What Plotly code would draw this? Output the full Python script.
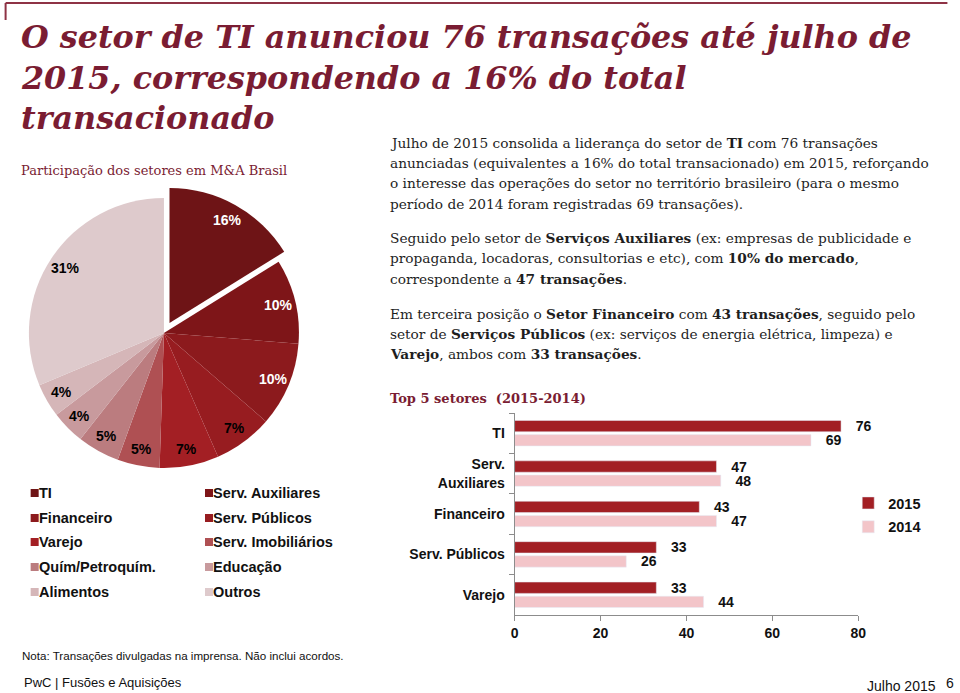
import math
import plotly.graph_objects as go

# ---------------- data ----------------
sectors = ["TI", "Serv. Auxiliares", "Financeiro", "Serv. Públicos", "Varejo",
           "Serv. Imobiliários", "Quím/Petroquím.", "Educação", "Alimentos", "Outros"]
shares = [16, 10, 10, 7, 7, 5, 5, 4, 4, 31]
pie_colors = ["#6E1416", "#7E1518", "#8C1A1D", "#971C20", "#A31F24",
              "#AF5053", "#BB7C7F", "#C89A9D", "#D5B6B8", "#DECACC"]
pie_text_colors = ["white", "white", "white", "black", "black",
                   "black", "black", "black", "black", "black"]
pie_pull = [0.085, 0, 0, 0, 0, 0, 0, 0, 0, 0]

top5 = ["TI", "Serv.<br>Auxiliares", "Financeiro", "Serv. Públicos", "Varejo"]
deals_2015 = [76, 47, 43, 33, 33]
deals_2014 = [69, 48, 47, 26, 44]
years = ["2015", "2014"]
bar_colors = ["#A21F24", "#F3C5C9"]

W, H = 960, 693
SANS = "Arial, Liberation Sans, sans-serif"
SERIF = "DejaVu Serif, Georgia, serif"
MAROON = "#7A1C32"


def px(x):
    # horizontal page position -> paper fraction (small correction for the capture)
    return ((x - 3.4) / 0.9856) / W


def py(y):
    return 1 - y / H


fig = go.Figure()

# ---------------- pie ----------------
cx, cy, r = 163, 333, 135
half = r * (1 + max(pie_pull))
fig.add_trace(go.Pie(
    labels=sectors, values=shares, sort=False, direction="clockwise", rotation=0,
    marker=dict(colors=pie_colors, line=dict(width=0)),
    pull=pie_pull, textinfo="none", hoverinfo="label+percent", showlegend=False,
    domain=dict(x=[px(cx - half), px(cx + half)], y=[py(cy + half), py(cy - half)]),
))

total = sum(shares)
cum = 0
annotations = []
for name, v, tc, pl in zip(sectors, shares, pie_text_colors, pie_pull):
    th = 2 * math.pi * (cum + v / 2) / total
    cum += v
    k = 0.875
    lx = cx + (k + pl) * r * math.sin(th)
    ly = cy - (k + pl) * r * math.cos(th)
    annotations.append(dict(x=px(lx), y=py(ly), xref="paper", yref="paper",
                            xanchor="center", yanchor="middle",
                            text=f"{v}%", showarrow=False,
                            font=dict(family=SANS, size=14, color=tc, weight="bold")))

# pie legend (two columns, Excel style)
rows = [493, 518, 542, 567, 592]
shapes = []
for i, (name, col) in enumerate(zip(sectors, pie_colors)):
    c = i % 2
    rr = i // 2
    mx = 30 if c == 0 else 204
    yy = rows[rr]
    shapes.append(dict(type="rect", xref="paper", yref="paper",
                       x0=px(mx), x1=px(mx + 8), y0=py(yy + 4), y1=py(yy - 4),
                       fillcolor=col, line=dict(width=0)))
    annotations.append(dict(x=px(mx + 6), y=py(yy), xref="paper", yref="paper",
                            xanchor="left", yanchor="middle", text=name, showarrow=False,
                            font=dict(family=SANS, size=14.5, color="#111", weight="bold")))

# ---------------- bars ----------------
for yr, vals, col in zip(years, [deals_2015, deals_2014], bar_colors):
    fig.add_trace(go.Bar(
        y=top5, x=vals, orientation="h", name=yr, marker=dict(color=col),
        text=vals, texttemplate="   %{x}", textposition="outside", constraintext="none",
        cliponaxis=False, legendgroup=yr,
        textfont=dict(family=SANS, size=14, color="#111", weight="bold"),
    ))

fig.update_layout(
    width=W, height=H, margin=dict(l=0, r=0, t=0, b=0),
    paper_bgcolor="white", plot_bgcolor="white",
    barmode="group", bargap=0.3, bargroupgap=0.2,
    xaxis=dict(domain=[px(513), px(856)], range=[0, 80], tickvals=[0, 20, 40, 60, 80],
               showgrid=False, zeroline=False, showline=True, linecolor="#8C8C8C",
               ticks="outside", ticklen=5, tickcolor="#8C8C8C",
               tickfont=dict(family=SANS, size=14, color="#111", weight="bold")),
    yaxis=dict(domain=[py(615), py(413)], type="category", autorange="reversed",
               showgrid=False, showline=True, linecolor="#8C8C8C",
               ticks="outside", ticklen=5, tickcolor="#8C8C8C", tickson="boundaries",
               ticklabelstandoff=6,
               tickfont=dict(family=SANS, size=14, color="#111", weight="bold")),
    legend=dict(x=px(846), y=py(487), xanchor="left", yanchor="top",
                tracegroupgap=2, bgcolor="rgba(0,0,0,0)",
                font=dict(family=SANS, size=14.5, color="#111", weight="bold")),
    showlegend=True,
)

# ---------------- texts ----------------
title_lines = ["O setor de TI anunciou 76 transações até julho de",
               "2015, correspondendo a 16% do total",
               "transacionado"]
for i, t in enumerate(title_lines):
    annotations.append(dict(x=px(18), y=py(36 + 41 * i), xref="paper", yref="paper",
                            xanchor="left", yanchor="middle", text=t, showarrow=False,
                            font=dict(family=SERIF, size=31.8, color=MAROON, weight="bold",
                                      style="italic")))

annotations.append(dict(x=px(18), y=py(170), xref="paper", yref="paper", xanchor="left",
                        yanchor="middle", text="Participação dos setores em M&A Brasil",
                        showarrow=False, font=dict(family=SERIF, size=13, color=MAROON)))

body_lines = [
    ("Julho de 2015 consolida a liderança do setor de <b>TI</b> com 76 transações", 143),
    ("anunciadas (equivalentes a 16% do total transacionado) em 2015, reforçando", 163),
    ("o interesse das operações do setor no território brasileiro (para o mesmo", 183),
    ("período de 2014 foram registradas 69 transações).", 204),
    ("Seguido pelo setor de <b>Serviços Auxiliares</b> (ex: empresas de publicidade e", 238),
    ("propaganda, locadoras, consultorias e etc), com <b>10% do mercado</b>,", 258),
    ("correspondente a <b>47 transações</b>.", 279),
    ("Em terceira posição o <b>Setor Financeiro</b> com <b>43 transações</b>, seguido pelo", 314),
    ("setor de <b>Serviços Públicos</b> (ex: serviços de energia elétrica, limpeza) e", 334),
    ("<b>Varejo</b>, ambos com <b>33 transações</b>.", 354),
]
for t, y0 in body_lines:
    annotations.append(dict(x=px(387), y=py(y0), xref="paper", yref="paper",
                            xanchor="left", yanchor="middle", align="left", text=t,
                            showarrow=False,
                            font=dict(family=SERIF, size=13.7, color="#1E1E1E")))

annotations.append(dict(x=px(387), y=py(398), xref="paper", yref="paper", xanchor="left",
                        yanchor="middle", text="Top 5 setores  (2015-2014)", showarrow=False,
                        font=dict(family=SERIF, size=13, color=MAROON, weight="bold")))

annotations.append(dict(x=px(19), y=py(655), xref="paper", yref="paper", xanchor="left",
                        yanchor="middle",
                        text="Nota: Transações divulgadas na imprensa. Não inclui acordos.",
                        showarrow=False, font=dict(family=SANS, size=11.6, color="#111")))
annotations.append(dict(x=px(21), y=py(682), xref="paper", yref="paper", xanchor="left",
                        yanchor="middle", text="PwC | Fusões e Aquisições",
                        showarrow=False, font=dict(family=SANS, size=13, color="#111")))
annotations.append(dict(x=px(899), y=py(686), xref="paper", yref="paper", xanchor="center",
                        yanchor="middle", text="Julho 2015",
                        showarrow=False, font=dict(family=SANS, size=14, color="#111")))
annotations.append(dict(x=px(948), y=py(683), xref="paper", yref="paper", xanchor="center",
                        yanchor="middle", text="6",
                        showarrow=False, font=dict(family=SANS, size=14, color="#111")))

# frame lines at top-left
shapes.append(dict(type="line", xref="paper", yref="paper", x0=px(5), x1=px(945),
                   y0=py(3), y1=py(3), line=dict(color="#8E3245", width=2)))
shapes.append(dict(type="line", xref="paper", yref="paper", x0=px(5), x1=px(5),
                   y0=py(3), y1=py(20), line=dict(color="#8E3245", width=2)))

fig.update_layout(annotations=annotations, shapes=shapes)
fig.write_html("out.html")
